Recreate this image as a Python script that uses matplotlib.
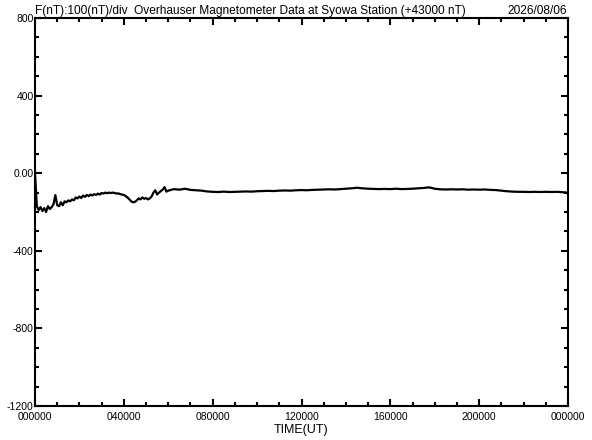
import numpy as np
import matplotlib
matplotlib.use("Agg")
import matplotlib.pyplot as plt
from matplotlib.ticker import MultipleLocator, FixedLocator, FixedFormatter

# first 6 hours, 5-minute steps (minutes)
early_min = list(range(0, 361, 5))
early_val = [0, -170, -190, -175, -195, -180, -200, -170, -185, -175, -160, -113,
             -165, -170, -150, -165, -145, -150, -140, -145, -135, -140, -125, -130,
             -120, -128, -115, -122, -112, -118, -110, -115, -108, -112, -105, -110,
             -102, -105, -100, -103, -100, -102, -100, -102, -105, -104, -108, -110,
             -112, -118, -125, -135, -145, -150, -148, -140, -130, -135, -125, -132,
             -128, -135, -130, -120, -100, -88, -110, -100, -92, -85, -72, -95, -90]
# 6h to 24h, 15-minute steps (hours)
late_hr = [6 + 0.25 * i for i in range(1, 73)]
late_val = [-82, -85, -80, -86, -88, -90, -94, -96, -97, -95, -97, -96, -95, -94, -95,
            -93, -92, -91, -92, -90, -89, -90, -88, -87, -88, -86, -85, -84, -83, -84,
            -82, -80, -78, -75, -78, -80, -81, -82, -81, -82, -80, -82, -81, -80, -78,
            -76, -73, -80, -83, -84, -83, -84, -83, -85, -84, -85, -84, -86, -87, -90,
            -93, -95, -96, -96, -97, -96, -97, -96, -97, -96, -98, -100]

x_ticks = [0, 4, 8, 12, 16, 20, 24]
x_labels = ["000000", "040000", "080000", "120000", "160000", "200000", "000000"]
y_ticks = [-1200, -800, -400, 0, 400, 800]
y_labels = ["-1200", "-800", "-400", "0.00", "400", "800"]

t = np.array([m / 60 for m in early_min] + late_hr)
v = np.array(early_val + late_val)

plt.rcParams['font.family'] = ['Liberation Sans', 'DejaVu Sans']
fig = plt.figure(figsize=(5.92, 4.40), dpi=100)
ax = fig.add_axes([35/592, 34/440, 533/592, 388/440])
ax.plot(t, v, color="black", lw=1.6)
ax.set_xlim(0, 24)
ax.set_ylim(-1200, 800)

ax.xaxis.set_major_locator(FixedLocator(x_ticks))
ax.xaxis.set_major_formatter(FixedFormatter(x_labels))
ax.xaxis.set_minor_locator(MultipleLocator(1))
ax.yaxis.set_major_locator(FixedLocator(y_ticks))
ax.yaxis.set_major_formatter(FixedFormatter(y_labels))
ax.yaxis.set_minor_locator(MultipleLocator(100))

ax.tick_params(which="both", direction="in", top=True, right=True,
               labeltop=False, labelright=False, width=1.5, color="black")
ax.tick_params(which="major", length=5, labelsize=7.5)
ax.tick_params(which="minor", length=3)
ax.tick_params(axis="y", which="major", pad=1)
ax.tick_params(axis="x", which="major", pad=4)
for s in ax.spines.values():
    s.set_linewidth(1.5)

ax.set_xlabel("TIME(UT)", fontsize=9, labelpad=1.5)
fig.text(35/592, 423/440, "F(nT):100(nT)/div  Overhauser Magnetometer Data at Syowa Station (+43000 nT)",
         fontsize=8.6, ha="left", va="bottom")
fig.text(567/592, 423/440, "2026/08/06", fontsize=8.6, ha="right", va="bottom")

fig.savefig("out.png", dpi=100)
